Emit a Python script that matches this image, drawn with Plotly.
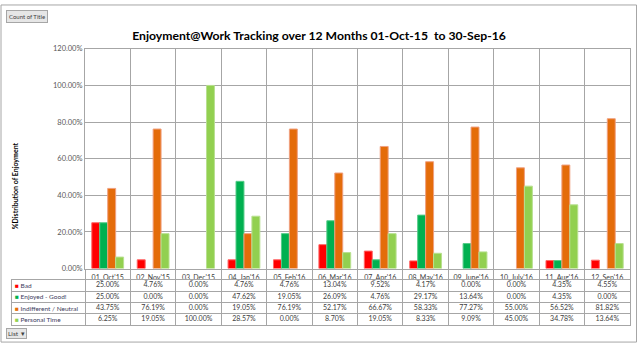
import plotly.graph_objects as go

categories = ["01_Oct'15", "02_Nov'15", "03_Dec'15", "04_Jan'16", "05_Feb'16", "06_Mar'16",
              "07_Apr'16", "08_May'16", "09_June'16", "10_July'16", "11_Aug'16", "12_Sep'16"]
series_names = ["Bad", "Enjoyed - Good!", "Indifferent / Neutral", "Personal Time"]
bad = [25.00, 4.76, 0.00, 4.76, 4.76, 13.04, 9.52, 4.17, 0.00, 0.00, 4.35, 4.55]
enjoyed = [25.00, 0.00, 0.00, 47.62, 19.05, 26.09, 4.76, 29.17, 13.64, 0.00, 4.35, 0.00]
indifferent = [43.75, 76.19, 0.00, 19.05, 76.19, 52.17, 66.67, 58.33, 77.27, 55.00, 56.52, 81.82]
personal = [6.25, 19.05, 100.00, 28.57, 0.00, 8.70, 19.05, 8.33, 9.09, 45.00, 34.78, 13.64]
y_ticks = [0, 20, 40, 60, 80, 100, 120]

series_values = [bad, enjoyed, indifferent, personal]
colors = ["#FF0000", "#00B050", "#E46C0A", "#92D050"]
edge_colors = ["#FF6666", "#55CC88", "#F0A080", "#B8E090"]

FONT = "Lato"
W, H = 640, 350


def px_x(p):
    return p / W


def px_y(p):
    return 1 - p / H


fig = go.Figure()

for name, vals, col, ecol in zip(series_names, series_values, colors, edge_colors):
    fig.add_trace(go.Bar(
        x=categories, y=vals, name=name,
        marker=dict(color=col, line=dict(color=ecol, width=[1 if v > 0 else 0 for v in vals])),
        xaxis="x", yaxis="y", hoverinfo="skip", showlegend=False,
    ))

# data-table values
ncat = len(categories)
for i, vals in enumerate(series_values):
    fig.add_trace(go.Scatter(
        x=list(range(ncat)), y=[i] * ncat, mode="text",
        text=[f"{v:.2f}%" for v in vals],
        textfont=dict(family=FONT, size=7, color="#404040"),
        xaxis="x2", yaxis="y2", hoverinfo="skip", showlegend=False,
    ))

cat_w = (630 - 85) / ncat
legend_units = (85 - 12) / cat_w

grid_dark = "#a6a6a6"
grid_light = "#d9d9d9"

fig.update_layout(
    width=W, height=H,
    margin=dict(l=0, r=0, t=0, b=0),
    paper_bgcolor="white", plot_bgcolor="white",
    font=dict(family=FONT, color="#595959"),
    barmode="group", bargap=0.3, bargroupgap=0,
    title=dict(text="Enjoyment@Work Tracking over 12 Months 01-Oct-15  to 30-Sep-16",
               x=319 / W, y=px_y(36), xanchor="center", yanchor="middle",
               font=dict(family=FONT, size=12.2, color="#000000", weight="bold")),
    xaxis=dict(domain=[px_x(85), px_x(630)], type="category", tickson="boundaries",
               ticks="outside", ticklen=12, tickcolor=grid_dark, tickwidth=1,
               showgrid=True, gridcolor=grid_dark, gridwidth=1,
               showline=True, linecolor=grid_dark, mirror=True,
               tickangle=0, ticklabelstandoff=2,
               tickfont=dict(family=FONT, size=7, color="#404040"),
               anchor="y", fixedrange=True),
    xaxis3=dict(domain=[px_x(85), px_x(630)], overlaying="x", anchor="y", type="linear",
                range=[-0.5, ncat - 0.5], tickvals=list(range(ncat)),
                showgrid=True, gridcolor=grid_light, gridwidth=1,
                showticklabels=False, ticks="", zeroline=False, showline=False),
    yaxis=dict(domain=[px_y(271.5), px_y(46)], range=[0, 120], tickvals=y_ticks,
               ticktext=[f"{v:.2f}%" for v in y_ticks],
               showgrid=True, gridcolor=grid_dark, gridwidth=1,
               showline=True, linecolor=grid_dark, mirror=True, zeroline=False,
               ticks="", tickfont=dict(family=FONT, size=7.5, color="#595959"),
               anchor="x", fixedrange=True),
    xaxis2=dict(domain=[px_x(12), px_x(630)], range=[-0.5 - legend_units, ncat - 0.5],
                tickvals=[k - 0.5 for k in range(ncat)], showgrid=True, gridcolor=grid_dark,
                showticklabels=False, ticks="", zeroline=False,
                showline=True, linecolor=grid_dark, mirror=True, anchor="y2", fixedrange=True),
    yaxis2=dict(domain=[px_y(329.3), px_y(283.3)], range=[len(series_names) - 0.5, -0.5],
                tickvals=[k + 0.5 for k in range(len(series_names) - 1)], showgrid=True,
                gridcolor=grid_dark, showticklabels=False, ticks="", zeroline=False,
                showline=True, linecolor=grid_dark, mirror=True, anchor="x2", fixedrange=True),
    showlegend=False,
)

annotations = []
for i, (name, col) in enumerate(zip(series_names, colors)):
    annotations.append(dict(
        xref="x2 domain", yref="y2", x=0.002, y=i, xanchor="left", yanchor="middle",
        text=f"<span style='color:{col}'>■</span> {name}", showarrow=False,
        font=dict(family=FONT, size=6.5, color="#404060"),
    ))

annotations.append(dict(
    xref="paper", yref="paper", x=px_x(15), y=px_y(187), textangle=-90,
    text="%Distribution of Enjoyment", showarrow=False, xanchor="center", yanchor="middle",
    font=dict(family=FONT, size=7, color="#000000", weight="bold"),
))
annotations.append(dict(
    xref="paper", yref="paper", x=px_x(6), y=px_y(6), xanchor="left", yanchor="top",
    text="Count of Title", showarrow=False, bgcolor="#e6e6e6", bordercolor="#a6a6a6",
    borderwidth=1, borderpad=2, font=dict(family=FONT, size=6, color="#404040"),
))
annotations.append(dict(
    xref="paper", yref="paper", x=px_x(6), y=px_y(333), xanchor="left", yanchor="top",
    text="List  ▾", showarrow=False, bgcolor="#e6e6e6", bordercolor="#a6a6a6",
    borderwidth=1, borderpad=1, font=dict(family=FONT, size=6.5, color="#404040"),
))
fig.update_layout(annotations=annotations)

fig.add_shape(type="rect", xref="paper", yref="paper",
              x0=px_x(1), x1=px_x(636.5), y0=px_y(347), y1=px_y(1),
              line=dict(color="#a6a6a6", width=1), fillcolor="rgba(0,0,0,0)", layer="below")

fig.write_html("out.html")
